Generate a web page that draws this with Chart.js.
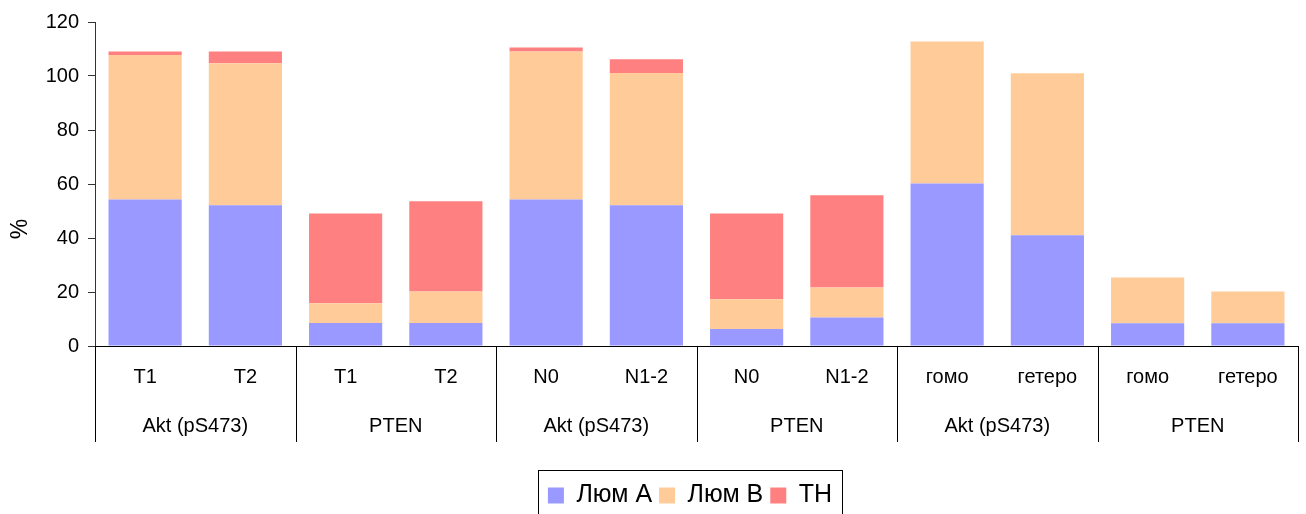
<!DOCTYPE html>
<html>
<head>
<meta charset="utf-8">
<script src="https://cdn.jsdelivr.net/npm/chart.js@4.4.1/dist/chart.umd.min.js"></script>
<style>
  html, body { margin: 0; padding: 0; background: #fff; }
  #wrap { width: 1306px; height: 514px; }
</style>
</head>
<body>
<div id="wrap"><canvas id="chart" width="1306" height="514"></canvas></div>
<script>
// подписи категорий и групп
const subLabels = ['T1', 'T2', 'T1', 'T2', 'N0', 'N1-2', 'N0', 'N1-2', 'гомо', 'гетеро', 'гомо', 'гетеро'];
const groupLabels = ['Akt (pS473)', 'PTEN', 'Akt (pS473)', 'PTEN', 'Akt (pS473)', 'PTEN'];

// значения, %
const lumA = [54.3, 52.1, 8.5, 8.5, 54.3, 52.1, 6.3, 10.6, 60.2, 41.0, 8.4, 8.4];
const lumB = [53.5, 52.6, 7.3, 11.7, 54.8, 49.0, 11.0, 11.1, 52.6, 60.0, 17.0, 11.8];
const tn = [1.3, 4.4, 33.3, 33.4, 1.5, 5.1, 31.8, 34.1, 0, 0, 0, 0];

const FONT = '"Liberation Sans", Arial, sans-serif';

// групповые подписи, разделители, подпись оси Y и рамка легенды
const groupAxis = {
  id: 'groupAxis',
  afterLayout(chart) {
    // легенда в оригинале смещена вправо от центра
    const lg = chart.legend;
    lg.left += 82;
    if (lg.adjustHitBoxes) lg.adjustHitBoxes();
  },
  afterDraw(chart) {
    const ctx = chart.ctx;
    const x = chart.scales.x;
    const area = chart.chartArea;
    const half = (x.getPixelForValue(1) - x.getPixelForValue(0)) / 2;
    ctx.save();
    ctx.strokeStyle = '#000';
    ctx.lineWidth = 1;
    for (let i = 0; i <= subLabels.length; i += 2) {
      const px = Math.round(x.getPixelForValue(i) - half) + 0.5;
      ctx.beginPath();
      ctx.moveTo(px, area.bottom);
      ctx.lineTo(px, area.bottom + 96);
      ctx.stroke();
    }
    ctx.fillStyle = '#000';
    ctx.font = '20px ' + FONT;
    ctx.textAlign = 'center';
    ctx.textBaseline = 'middle';
    groupLabels.forEach((g, k) => {
      const cx = (x.getPixelForValue(2 * k) + x.getPixelForValue(2 * k + 1)) / 2;
      ctx.fillText(g, cx, area.bottom + 80);
    });

    // "%" по центру всей оси вместе с подписями
    ctx.save();
    ctx.translate(21, 229);
    ctx.rotate(-Math.PI / 2);
    ctx.font = '23px ' + FONT;
    ctx.fillText('%', 0, 0);
    ctx.restore();

    // рамка легенды
    const boxes = chart.legend.legendHitBoxes;
    if (boxes && boxes.length) {
      const l = boxes[0].left - 10;
      const last = boxes[boxes.length - 1];
      const r = last.left + last.width + 10;
      const t = chart.legend.top - 6;
      ctx.strokeRect(Math.round(l) + 0.5, Math.round(t) + 0.5, Math.round(r - l), 60);
    }
    ctx.restore();
  }
};

new Chart(document.getElementById('chart'), {
  type: 'bar',
  data: {
    labels: subLabels,
    datasets: [
      { label: 'Люм А', data: lumA, backgroundColor: '#9999FF' },
      { label: 'Люм В', data: lumB, backgroundColor: '#FFCC99' },
      { label: 'ТН', data: tn, backgroundColor: '#FF8080' }
    ]
  },
  options: {
    responsive: false,
    animation: false,
    layout: { padding: { top: 22, right: 8, bottom: -4, left: 0 } },
    datasets: { bar: { barPercentage: 0.73, categoryPercentage: 1 } },
    scales: {
      x: {
        stacked: true,
        grid: { display: false },
        border: { display: true, color: '#000', width: 1 },
        ticks: { color: '#000', font: { family: FONT, size: 20 }, padding: 11, maxRotation: 0, autoSkip: false },
        afterFit(scale) { scale.height = 130; }
      },
      y: {
        stacked: true,
        min: 0,
        max: 120,
        ticks: { stepSize: 20, color: '#000', font: { family: FONT, size: 20 }, padding: 9 },
        grid: { drawOnChartArea: false, tickLength: 7, color: '#333' },
        border: { color: '#333', width: 1 },
        title: { display: false },
        afterFit(scale) { scale.width = 95; }
      }
    },
    plugins: {
      legend: {
        position: 'bottom',
        labels: { color: '#000', font: { family: FONT, size: 25 }, boxWidth: 16, boxHeight: 16, padding: 7 }
      },
      tooltip: { enabled: false }
    }
  },
  plugins: [groupAxis]
});
</script>
</body>
</html>
